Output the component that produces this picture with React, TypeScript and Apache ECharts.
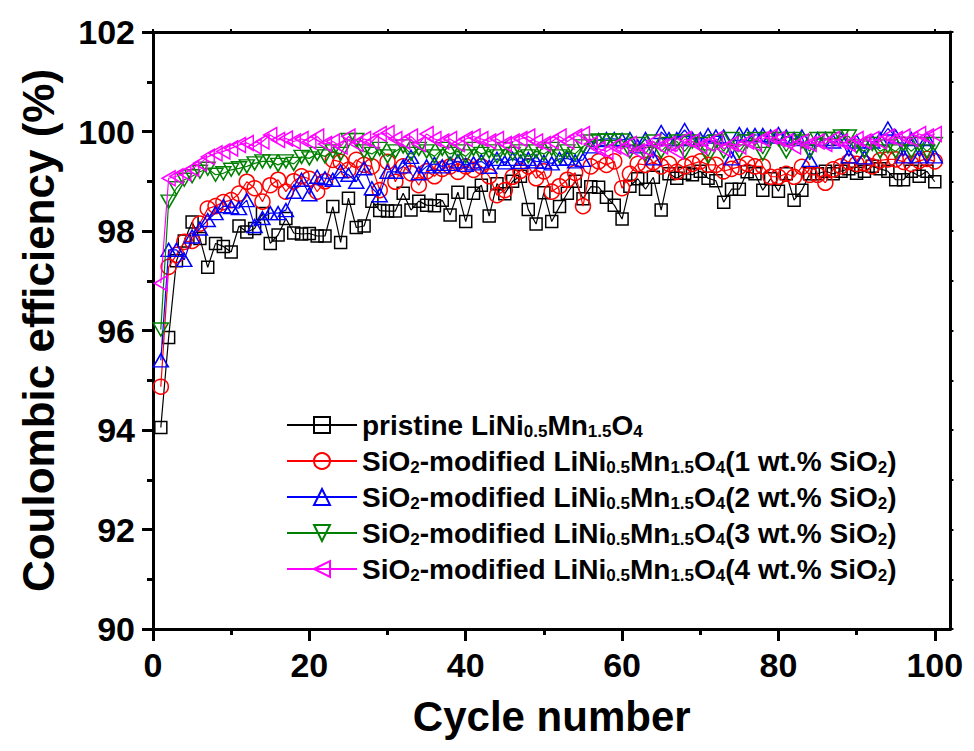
import React, { useEffect, useRef } from "react";
import * as echarts from "echarts";

const FONT = '"Liberation Sans", Arial, Helvetica, sans-serif';

const cycles: number[] = Array.from({ length: 100 }, (_, i) => i + 1);

const xMajorTicks = [0, 20, 40, 60, 80, 100];
const xMinorTicks = [10, 30, 50, 70, 90];
const xTopTicks = [0, 10, 20, 30, 40, 50, 60, 70, 80, 90, 100];

const seriesNames = [
  "pristine LiNi0.5Mn1.5O4",
  "SiO2-modified LiNi0.5Mn1.5O4(1 wt.% SiO2)",
  "SiO2-modified LiNi0.5Mn1.5O4(2 wt.% SiO2)",
  "SiO2-modified LiNi0.5Mn1.5O4(3 wt.% SiO2)",
  "SiO2-modified LiNi0.5Mn1.5O4(4 wt.% SiO2)",
];

const legendRich: Record<string, string> = {
  [seriesNames[0]]: "pristine LiNi{s|0.5}Mn{s|1.5}O{s|4}",
  [seriesNames[1]]: "SiO{s|2}-modified LiNi{s|0.5}Mn{s|1.5}O{s|4}(1 wt.% SiO{s|2})",
  [seriesNames[2]]: "SiO{s|2}-modified LiNi{s|0.5}Mn{s|1.5}O{s|4}(2 wt.% SiO{s|2})",
  [seriesNames[3]]: "SiO{s|2}-modified LiNi{s|0.5}Mn{s|1.5}O{s|4}(3 wt.% SiO{s|2})",
  [seriesNames[4]]: "SiO{s|2}-modified LiNi{s|0.5}Mn{s|1.5}O{s|4}(4 wt.% SiO{s|2})",
};

const pristine = [
  94.05, 95.86, 97.4, 97.8, 98.18, 97.85, 97.27, 97.75, 97.69, 97.58,
  98.1, 97.98, 98.05, 98.35, 97.75, 97.92, 98.25, 97.96, 97.94, 97.95,
  97.9, 97.9, 98.49, 97.77, 98.66, 98.07, 98.1, 98.6, 98.41, 98.4,
  98.4, 98.76, 98.42, 98.6, 98.52, 98.51, 98.62, 98.32, 98.78, 98.19,
  98.76, 98.92, 98.3, 98.95, 98.75, 99.0, 99.1, 98.43, 98.14, 98.77,
  98.19, 98.49, 98.76, 99.0, 98.65, 98.89, 98.88, 98.68, 98.52, 98.24,
  98.9, 99.05, 98.84, 99.08, 98.42, 99.15, 99.06, 99.16, 99.13, 99.2,
  99.06, 99.01, 98.58, 98.84, 98.84, 99.19, 99.15, 98.82, 99.05, 98.8,
  99.15, 98.62, 98.82, 99.15, 99.15, 99.2, 99.15, 99.2, 99.25, 99.16,
  99.2, 99.3, 99.25, 99.2, 99.03, 99.03, 99.2, 99.1, 99.2, 98.99,
];

const sio2_1 = [
  94.87, 97.28, 97.52, 97.78, 97.8, 98.15, 98.45, 98.5, 98.58, 98.62,
  98.75, 98.99, 98.86, 98.59, 98.92, 99.03, 98.79, 99.0, 99.1, 99.05,
  98.79, 99.0, 99.43, 99.39, 99.23, 99.43, 99.33, 99.3, 98.82, 99.39,
  98.99, 99.3, 99.16, 98.92, 99.2, 99.1, 99.25, 99.3, 99.19, 99.3,
  99.23, 99.3, 99.1, 98.72, 98.82, 99.09, 99.21, 99.3, 99.06, 99.2,
  98.79, 98.9, 99.03, 99.17, 98.5, 99.3, 99.4, 99.33, 99.4, 98.86,
  99.15, 99.35, 99.33, 99.38, 99.3, 99.35, 99.19, 99.3, 99.35, 99.4,
  99.33, 99.33, 99.2, 99.25, 99.29, 99.35, 99.3, 99.3, 99.09, 99.09,
  99.15, 99.09, 99.29, 99.13, 99.13, 98.97, 99.24, 99.3, 99.39, 99.35,
  99.36, 99.3, 99.42, 99.44, 99.44, 99.39, 99.35, 99.41, 99.45, 99.4,
];

const sio2_2 = [
  95.4, 97.62, 97.62, 97.42, 97.89, 98.05, 98.22, 98.36, 98.5, 98.48,
  98.46, 98.62, 98.1, 98.26, 98.36, 98.36, 98.42, 98.79, 99.03, 98.74,
  99.09, 99.06, 99.03, 99.2, 99.13, 98.99, 99.26, 98.86, 98.72, 99.19,
  99.19, 99.3, 99.49, 99.16, 99.3, 99.35, 99.3, 99.35, 99.4, 99.33,
  99.36, 99.4, 99.29, 99.45, 99.38, 99.45, 99.39, 99.45, 99.4, 99.39,
  99.36, 99.45, 99.46, 99.4, 99.43, 99.7, 99.83, 99.85, 99.85, 99.83,
  99.85, 99.7, 99.85, 99.46, 99.99, 99.85, 99.85, 100.03, 99.85, 99.85,
  99.93, 99.9, 99.9, 99.46, 99.95, 99.93, 99.93, 99.93, 99.9, 99.95,
  99.9, 99.85, 99.9, 99.43, 99.85, 99.85, 99.8, 99.85, 99.5, 99.8,
  99.48, 99.8, 99.85, 100.06, 99.9, 99.5, 99.85, 99.5, 99.85, 99.5,
];

const sio2_3 = [
  96.02, 98.59, 98.86, 99.03, 99.1, 99.19, 99.25, 99.13, 99.16, 99.23,
  99.26, 99.3, 99.36, 99.4, 99.4, 99.33, 99.4, 99.35, 99.49, 99.46,
  99.55, 99.5, 99.6, 99.55, 99.83, 99.83, 99.6, 99.55, 99.65, 99.5,
  99.6, 99.7, 99.55, 99.65, 99.6, 99.5, 99.65, 99.55, 99.6, 99.5,
  99.65, 99.55, 99.6, 99.5, 99.65, 99.55, 99.6, 99.5, 99.6, 99.55,
  99.65, 99.5, 99.6, 99.55, 99.7, 99.8, 99.82, 99.82, 99.82, 99.82,
  99.6, 99.75, 99.55, 99.8, 99.6, 99.75, 99.8, 99.6, 99.8, 99.75,
  99.5, 99.8, 99.6, 99.85, 99.6, 99.8, 99.85, 99.55, 99.85, 99.85,
  99.6, 99.85, 99.8, 99.6, 99.85, 99.85, 99.85, 99.9, 99.9, 99.7,
  99.6, 99.75, 99.6, 99.7, 99.6, 99.75, 99.6, 99.75, 99.6, 99.75,
];

const sio2_4 = [
  96.95, 99.06, 99.1, 99.16, 99.25, 99.36, 99.49, 99.56, 99.6, 99.66,
  99.73, 99.77, 99.7, 99.8, 99.93, 99.83, 99.86, 99.8, 99.85, 99.8,
  99.9, 99.75, 99.8, 99.7, 99.9, 99.75, 99.85, 99.8, 99.95, 99.97,
  99.85, 99.8, 99.9, 99.75, 99.95, 99.85, 99.8, 99.85, 99.75, 99.85,
  99.9, 99.85, 99.8, 99.85, 99.75, 99.8, 99.85, 99.9, 99.8, 99.75,
  99.8, 99.9, 99.8, 99.9, 99.95, 99.75, 99.65, 99.6, 99.7, 99.65,
  99.75, 99.6, 99.65, 99.8, 99.7, 99.75, 99.6, 99.85, 99.8, 99.7,
  99.75, 99.85, 99.65, 99.75, 99.7, 99.8, 99.75, 99.85, 99.9, 99.85,
  99.8, 99.7, 99.8, 99.75, 99.8, 99.75, 99.85, 99.8, 99.75, 99.85,
  99.8, 99.85, 99.8, 99.9, 99.85, 99.9, 99.85, 99.95, 99.9, 99.95,
];

const seriesValues = [pristine, sio2_1, sio2_2, sio2_3, sio2_4];
const seriesColors = ["#000000", "#ff0000", "#0000ff", "#008000", "#ff00ff"];
const seriesSymbols = ["rect", "circle", "triangle", "triangle", "triangle"];
const seriesRotate = [0, 0, 0, 180, 90];
const seriesSizes: any[] = [12, 15, [15, 13], [15, 13], [15, 13]];

export default function App() {
  const ref = useRef<HTMLDivElement>(null);

  useEffect(() => {
    if (!ref.current) return;
    const chart = echarts.init(ref.current, null, { renderer: "svg" });
    const bold = { fontFamily: FONT, fontWeight: "bold" as const, color: "#000" };
    const axisLineStyle = { color: "#000", width: 3 };

    const option: any = {
      animation: false,
      backgroundColor: "#fff",
      grid: { left: 137, right: 6, top: 24, bottom: 114, containLabel: false },
      xAxis: [
        {
          type: "value",
          min: 0,
          max: 102,
          position: "bottom",
          name: "Cycle number",
          nameLocation: "middle",
          nameGap: 66,
          nameTextStyle: { ...bold, fontSize: 42 },
          axisLine: { show: true, onZero: false, lineStyle: axisLineStyle },
          axisTick: { show: true, inside: false, length: 12, customValues: xMajorTicks, lineStyle: axisLineStyle },
          axisLabel: { show: true, customValues: xMajorTicks, margin: 19, fontSize: 34, ...bold },
          splitLine: { show: false },
        },
        {
          type: "value",
          min: 0,
          max: 102,
          position: "bottom",
          axisLine: { show: false, onZero: false },
          axisTick: { show: true, inside: false, length: 6, customValues: xMinorTicks, lineStyle: axisLineStyle },
          axisLabel: { show: false },
          splitLine: { show: false },
        },
        {
          type: "value",
          min: 0,
          max: 102,
          position: "top",
          axisLine: { show: true, onZero: false, lineStyle: axisLineStyle },
          axisTick: { show: true, inside: false, length: 3, customValues: xTopTicks, lineStyle: { color: "#000", width: 2 } },
          axisLabel: { show: false },
          splitLine: { show: false },
        },
      ],
      yAxis: [
        {
          type: "value",
          min: 90,
          max: 102,
          interval: 2,
          position: "left",
          name: "Coulombic efficiency (%)",
          nameLocation: "middle",
          nameGap: 93,
          nameTextStyle: { ...bold, fontSize: 44 },
          axisLine: { show: true, onZero: false, lineStyle: axisLineStyle },
          axisTick: { show: true, inside: false, length: 11, lineStyle: axisLineStyle },
          minorTick: { show: true, splitNumber: 2, length: 6, lineStyle: axisLineStyle },
          axisLabel: { show: true, margin: 18, fontSize: 34, ...bold },
          splitLine: { show: false },
          minorSplitLine: { show: false },
        },
        {
          type: "value",
          min: 90,
          max: 102,
          interval: 1,
          position: "right",
          axisLine: { show: true, onZero: false, lineStyle: axisLineStyle },
          axisTick: { show: true, inside: false, length: 3, lineStyle: { color: "#000", width: 2 } },
          axisLabel: { show: false },
          splitLine: { show: false },
        },
      ],
      legend: {
        orient: "vertical",
        left: 273,
        top: 397,
        itemWidth: 70,
        itemHeight: 20,
        itemGap: 6,
        iconRotate: "inherit",
        selectedMode: false,
        data: seriesNames,
        formatter: (name: string) => legendRich[name] || name,
        textStyle: {
          ...bold,
          fontSize: 28,
          lineHeight: 30,
          rich: {
            s: { ...bold, fontSize: 17, lineHeight: 21, verticalAlign: "bottom" },
          },
        },
      },
      series: seriesNames.map((name, k) => ({
        type: "line",
        name,
        xAxisIndex: 0,
        yAxisIndex: 0,
        data: cycles.map((c, i) => [c, seriesValues[k][i]]),
        symbol: seriesSymbols[k],
        symbolSize: seriesSizes[k],
        symbolRotate: seriesRotate[k],
        showSymbol: true,
        showAllSymbol: true,
        clip: false,
        lineStyle: { color: seriesColors[k], width: 1.2 },
        itemStyle: { color: "rgba(255,255,255,0)", borderColor: seriesColors[k], borderWidth: 1.5 },
        emphasis: { disabled: true },
        z: 2 + k,
      })),
    };

    chart.setOption(option);
    return () => chart.dispose();
  }, []);

  return <div ref={ref} style={{ width: 958, height: 735 }} />;
}
